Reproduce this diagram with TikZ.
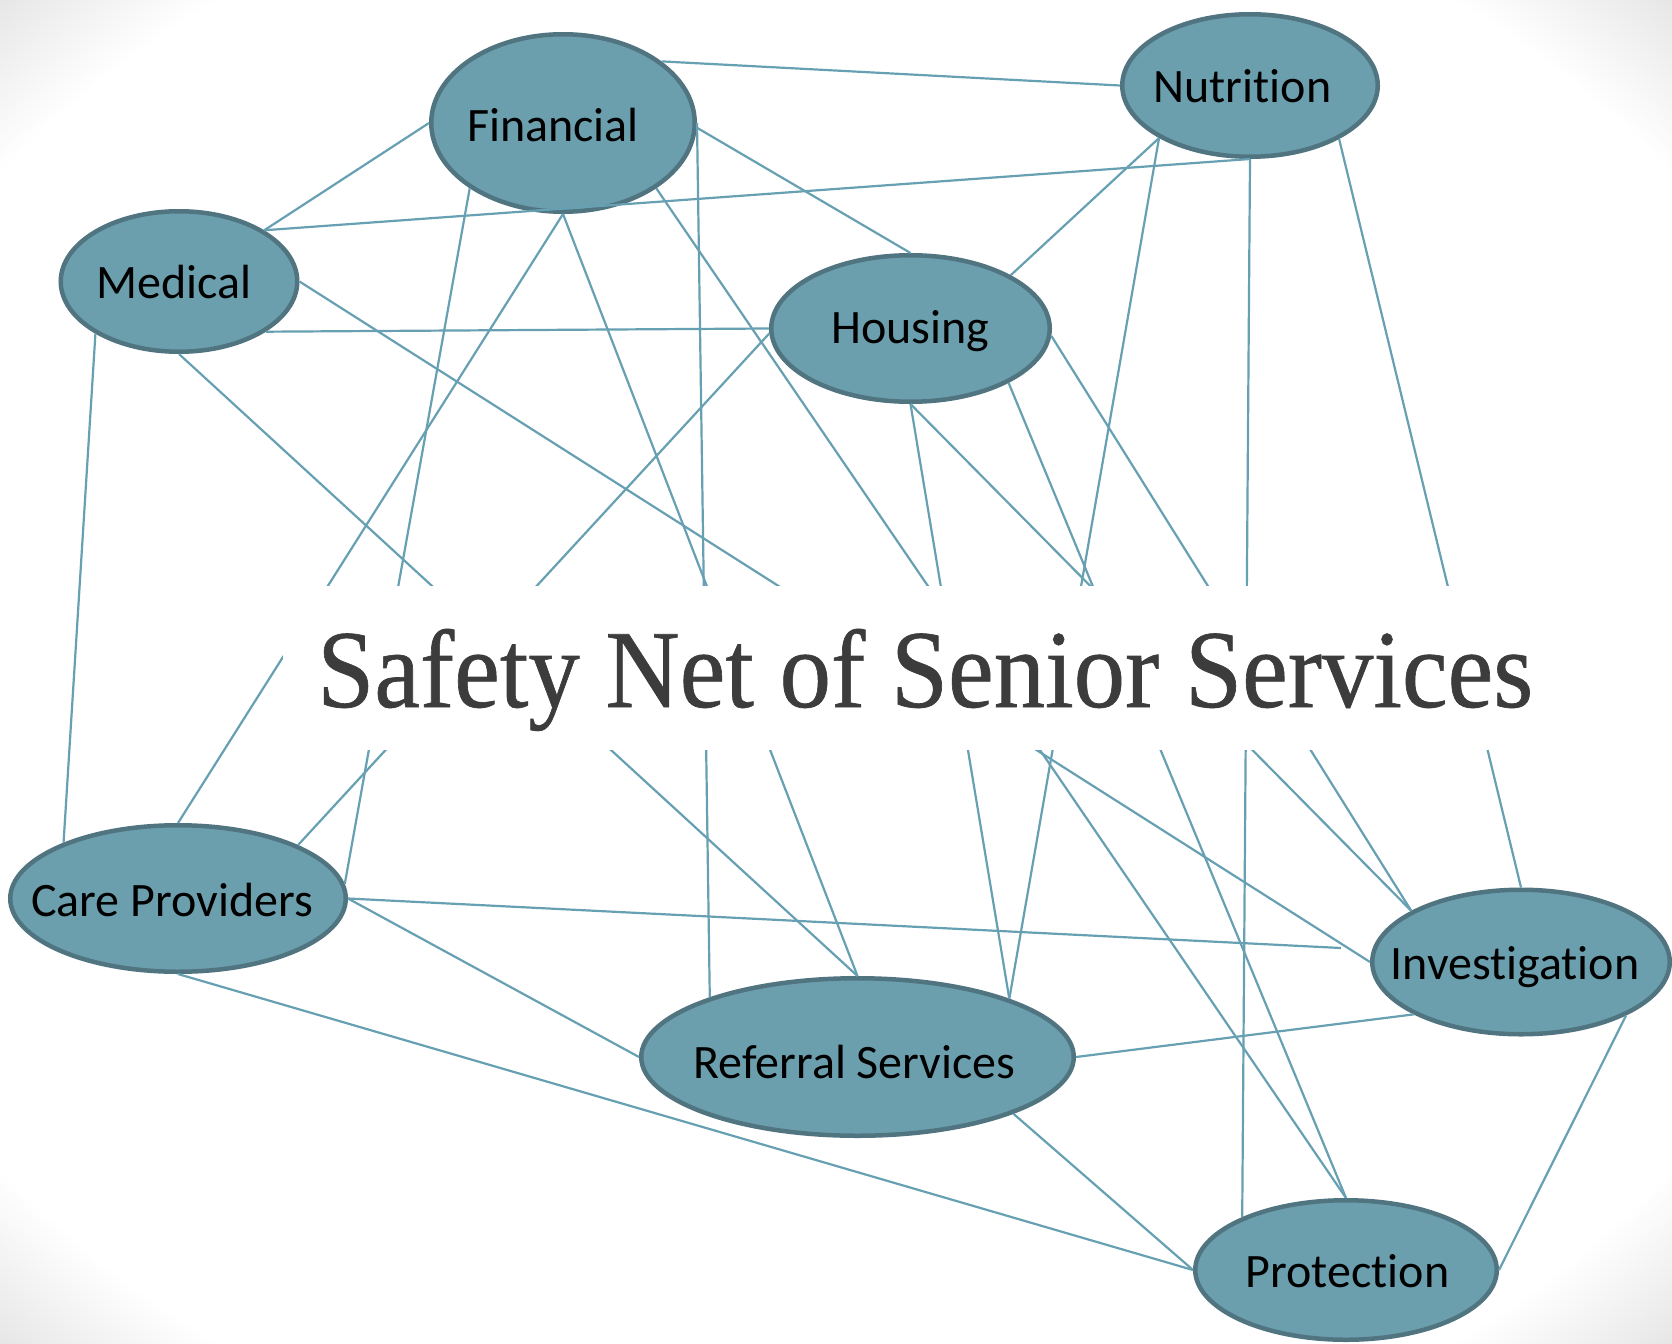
\documentclass[tikz,border=0pt]{standalone}
\usepackage{fontspec}
\setmainfont[Ligatures=NoCommon]{Carlito}
\newfontfamily\titlefont[FakeBold=0.6]{Liberation Serif}
\usetikzlibrary{shapes.geometric}
\definecolor{nodefill}{RGB}{107,159,174}
\definecolor{nodeborder}{RGB}{80,116,128}
\definecolor{linkcol}{RGB}{102,160,178}
\definecolor{titlecol}{RGB}{60,60,60}
% centred label, shifted horizontally by #1
\newcommand{\ctx}[2]{\makebox[0pt]{\kern#1\kern#1#2}}
\begin{document}
\begin{tikzpicture}[x=1pt,y=-1pt,
  svc/.style={ellipse, draw=nodeborder, line width=4.5pt, fill=nodefill, inner sep=0pt,
    text height=40pt, text depth=6pt, font=\fontsize{48}{57}\selectfont, text=black},
  link/.style={draw=linkcol, line width=2.2pt},
  vignette/.style={fill=black, fill opacity=0.005, even odd rule}]
\useasboundingbox (0,0) rectangle (1672,1343);
\fill[white] (-20,-20) rectangle (1692,1363);
% soft grey vignette in the corners
\begin{scope}
  \clip (-20,-20) rectangle (1692,1363);
  \foreach \s in {0.880,0.885,...,0.999}{
    \fill[vignette] (-300,-300) rectangle (1972,1643)
      (836,671.5) ellipse [x radius=1182*\s, y radius=950*\s];
  }
\end{scope}

\node[svc, minimum width=263.5pt, minimum height=177.5pt] (fin) at (563,123) {\ctx{-10pt}{\raisebox{-2pt}{Financial}}};
\node[svc, minimum width=255.5pt, minimum height=142.5pt] (nut) at (1250,85.5) {\ctx{-7.5pt}{Nutrition}};
\node[svc, minimum width=236.5pt, minimum height=140.5pt] (med) at (179,281.5) {\ctx{-5pt}{Medical}};
\node[svc, minimum width=278.5pt, minimum height=146.5pt] (hou) at (910.5,328.5) {\ctx{0pt}{\raisebox{2pt}{Housing}}};
\node[svc, minimum width=335.5pt, minimum height=146.5pt] (care) at (178,898.5) {\ctx{-6pt}{\raisebox{-1pt}{Care Providers}}};
\node[svc, minimum width=432.5pt, minimum height=157.5pt] (ref) at (857.5,1057) {\ctx{-3pt}{\raisebox{-4pt}{Referral Services}}};
\node[svc, minimum width=297.5pt, minimum height=144.5pt] (inv) at (1521,962) {\ctx{-6pt}{Investigation}};
\node[svc, minimum width=301.5pt, minimum height=139.5pt] (pro) at (1346,1270) {\ctx{1.5pt}{Protection}};

\draw[link] (fin.32) -- (nut.180);
\draw[link] (fin.180) -- (med.31);
\draw[link] (med.31) -- (nut.270);
\draw[link] (fin.358) -- (hou.90);
\draw[link] (fin.0) -- (ref.158);
\draw[link] (fin.215) -- (care.5);
\draw[link] (fin.270) -- (care.90);
\draw[link] (fin.270) -- (ref.90);
\draw[link] (fin.325) -- (pro.90);
\draw[link] (nut.210) -- (hou.28);
\draw[link] (nut.210) -- (ref.21);
\draw[link] (nut.270) -- (pro.153);
\draw[link] (nut.329) -- (inv.90);
\draw[link] (med.0) -- (inv.180);
\draw[link] (med.330) -- (hou.180);
\draw[link] (med.212) -- (care.154);
\draw[link] (med.270) -- (ref.90);
\draw[link] (hou.182) -- (care.24);
\draw[link] (hou.270) -- (ref.21);
\draw[link] (hou.270) -- (inv.155);
\draw[link] (hou.331) -- (pro.90);
\draw[link] (hou.357) -- (inv.155);
\coordinate (loose) at (1341,948);
\draw[link] (care.0) -- (loose);
\draw[link] (care.0) -- (ref.180);
\draw[link] (care.270) -- (pro.180);
\draw[link] (ref.0) -- (inv.206);
\draw[link] (ref.340) -- (pro.180);
\draw[link] (inv.333) -- (pro.0);

\fill[white] (283,586) rectangle (1600,750);
\node[anchor=base west, inner sep=0pt, text=titlecol, font=\titlefont\fontsize{111}{130}\selectfont] (title) at (317,707) {\scalebox{0.926}[1]{Safety Net of Senior Services}};
\end{tikzpicture}
\end{document}
